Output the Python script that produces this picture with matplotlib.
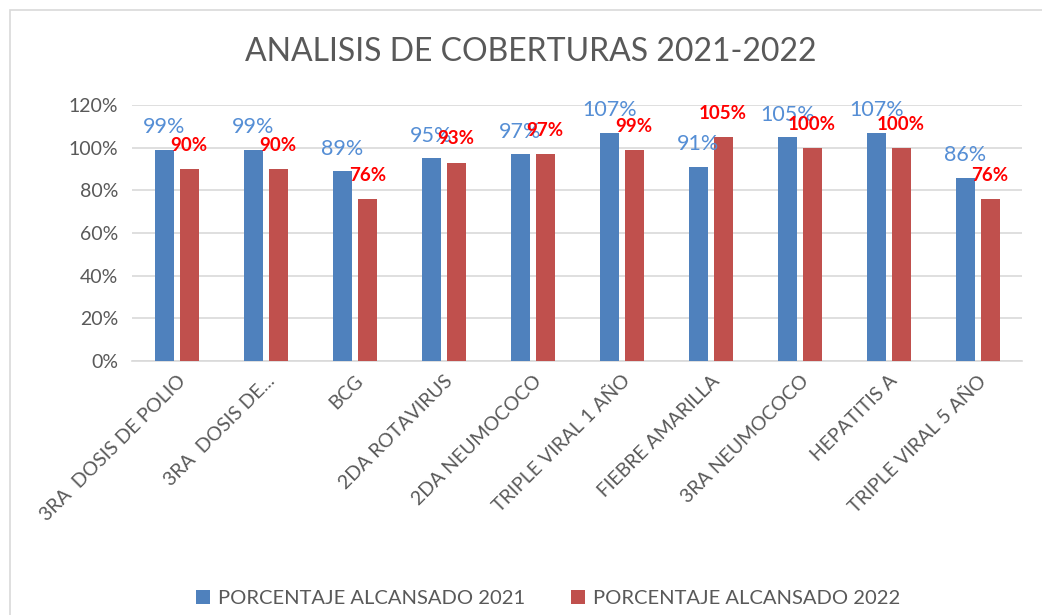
import matplotlib
matplotlib.use("Agg")
import matplotlib.pyplot as plt
import numpy as np
from matplotlib.patches import Rectangle

# Chart data
categories = ["3RA  DOSIS DE POLIO", "3RA  DOSIS DE...", "BCG", "2DA ROTAVIRUS",
              "2DA NEUMOCOCO", "TRIPLE VIRAL 1 AÑO", "FIEBRE AMARILLA",
              "3RA NEUMOCOCO", "HEPATITIS A", "TRIPLE VIRAL 5 AÑO"]
pct_2021 = [99, 99, 89, 95, 97, 107, 91, 105, 107, 86]
pct_2022 = [90, 90, 76, 93, 97, 99, 105, 100, 100, 76]
series_names = ["PORCENTAJE ALCANSADO 2021", "PORCENTAJE ALCANSADO 2022"]

plt.rcParams['font.family'] = ['Lato', 'DejaVu Sans']

fig = plt.figure(figsize=(10.42, 6.15), dpi=100)
fig.patch.set_facecolor('white')
# chart border like the Excel chart area
fig.patches.append(Rectangle((10 / 1042, -0.02), 1.1, 1.0 - 10 / 615 + 0.02,
                             transform=fig.transFigure, fill=False,
                             edgecolor='#D9D9D9', linewidth=1.2))

ax = fig.add_axes([0.127, 0.413, 0.854, 0.416])

x = np.arange(len(categories))
w = 0.21
off = 0.14
b1 = ax.bar(x - off, np.array(pct_2021) / 100, w, color='#4F81BD', label=series_names[0], zorder=3)
b2 = ax.bar(x + off, np.array(pct_2022) / 100, w, color='#C0504D', label=series_names[1], zorder=3)

for rect, v in zip(b1, pct_2021):
    ax.annotate(f"{v}%", (rect.get_x() + rect.get_width() / 2, rect.get_height()),
                xytext=(0, 9), textcoords='offset points', ha='center', va='bottom',
                color='#558ED5', fontsize=15.5, zorder=4)
for rect, v in zip(b2, pct_2022):
    ax.annotate(f"{v}%", (rect.get_x() + rect.get_width() / 2, rect.get_height()),
                xytext=(0, 11), textcoords='offset points', ha='center', va='bottom',
                color='#FF0000', fontsize=13.5, fontweight='bold', zorder=5)

ax.set_xlim(-0.5, len(categories) - 0.5)
ax.set_ylim(0, 1.2)
ax.set_yticks(np.arange(0, 1.21, 0.2))
ax.set_yticklabels([f"{int(round(t * 100))}%" for t in np.arange(0, 1.21, 0.2)])
ax.yaxis.grid(True, color='#D9D9D9', linewidth=1.2, zorder=0)
ax.set_axisbelow(True)
for s in ['top', 'right', 'left']:
    ax.spines[s].set_visible(False)
ax.spines['bottom'].set_color('#D9D9D9')
ax.spines['bottom'].set_linewidth(1.2)
ax.tick_params(axis='both', length=0, colors='#595959')
ax.tick_params(axis='y', pad=10, labelsize=14)
ax.tick_params(axis='x', pad=8, labelsize=14)
ax.set_xticks(x)
ax.set_xticklabels(categories, rotation=45, ha='right', rotation_mode='anchor')

fig.text(0.509, 0.915, "ANALISIS DE COBERTURAS 2021-2022", ha='center', va='center',
         fontsize=23, color='#595959')

fig.legend(loc='center', bbox_to_anchor=(0.526, 0.027), ncol=2, frameon=False,
           fontsize=14.5, labelcolor='#595959', handlelength=0.7, handleheight=0.7,
           columnspacing=2.3, handletextpad=0.4)

fig.savefig('out.png', dpi=100)
